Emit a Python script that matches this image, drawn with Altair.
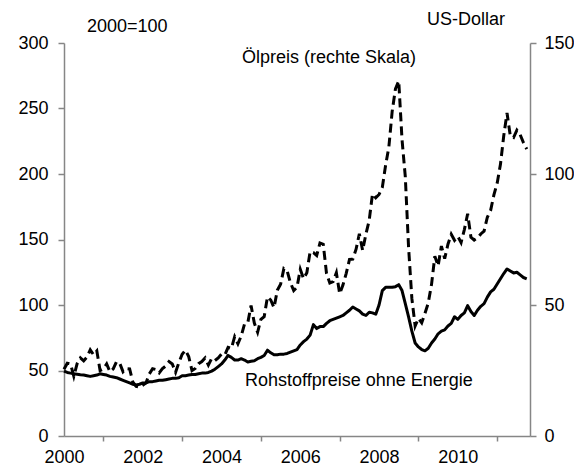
import altair as alt
import pandas as pd

# Monthly data, Jan 2000 - Oct 2011
oil_usd = [
    25.5, 27.8, 27.5, 22.8, 27.6, 29.8, 28.7, 30.1, 32.9, 31.0, 32.5, 25.0,
    25.6, 27.5, 24.5, 25.6, 28.4, 27.7, 24.5, 25.7, 25.6, 20.5, 18.9, 18.6,
    19.4, 20.3, 23.7, 25.7, 25.4, 24.1, 25.7, 26.7, 28.4, 27.5, 24.3, 28.0,
    31.2, 32.8, 30.3, 25.0, 25.8, 27.6, 28.4, 29.8, 27.1, 29.6, 28.8, 29.8,
    31.3, 30.9, 33.8, 33.4, 37.9, 35.2, 38.2, 42.7, 43.2, 49.8, 43.1, 39.6,
    44.5, 45.5, 53.1, 51.9, 49.0, 55.6, 57.9, 63.9, 63.0, 58.5, 55.5, 56.8,
    63.6, 60.0, 62.3, 70.4, 70.0, 68.9, 73.7, 73.2, 62.0, 58.4, 58.9, 62.3,
    54.3, 57.6, 62.1, 67.4, 67.5, 71.3, 77.2, 70.8, 77.1, 82.3, 92.4, 90.9,
    92.2, 94.9, 103.3, 110.4, 123.9, 132.5, 135.5, 113.2, 99.0, 72.0, 52.5, 42.0,
    44.9, 43.2, 46.8, 50.8, 57.9, 68.6, 64.9, 72.5, 67.7, 73.2, 77.0, 74.7,
    76.2, 73.8, 78.8, 84.8, 75.9, 74.8, 75.6, 77.1, 78.2, 83.5, 86.1, 92.0,
    96.5, 103.7, 114.6, 123.3, 114.5, 113.9, 116.7, 115.0, 112.0, 109.5,
]

commodity_index = [
    49.5, 48.5, 48.0, 47.5, 47.2, 46.8, 46.5, 46.0, 45.5, 46.0, 46.5, 47.5,
    47.0, 46.5, 45.5, 45.0, 44.5, 43.5, 42.5, 41.5, 40.5, 39.5, 39.0, 39.5,
    40.5, 40.5, 41.5, 41.5, 42.0, 42.5, 42.5, 43.0, 43.5, 44.0, 44.0, 44.5,
    46.0, 46.0, 46.5, 47.0, 47.0, 47.5, 48.0, 48.0, 48.5, 49.5, 51.0, 53.0,
    55.0, 58.0, 61.5, 60.0, 58.0, 58.0, 59.0, 58.0, 56.5, 57.0, 57.5, 59.0,
    60.0, 61.5, 65.5, 63.5, 62.0, 62.0, 62.5, 62.5, 63.0, 64.0, 65.0, 66.0,
    69.5, 72.0, 74.0, 77.0, 85.0, 82.0, 83.5, 83.5, 86.0, 88.0, 89.0, 90.0,
    91.0, 92.0, 94.0, 96.0, 98.5, 97.0, 95.5, 93.0, 92.0, 94.5, 94.0, 93.0,
    100.0, 111.0, 113.5, 113.5, 113.5, 114.0, 115.5, 111.0, 101.0, 91.0, 80.0, 71.0,
    68.0, 66.0, 65.0, 67.0, 71.0, 74.0, 78.0, 80.0, 81.0, 84.0, 86.0, 91.0,
    89.0, 92.0, 94.0, 99.5, 95.0, 92.0, 96.0, 99.0, 101.0, 106.0, 110.0, 112.0,
    116.0, 120.0, 124.0, 127.5, 126.0, 124.5, 125.0, 123.0, 121.0, 120.0,
]

x_tick_years = [2001, 2003, 2005, 2007, 2009, 2011]
left_ticks = [0, 50, 100, 150, 200, 250, 300]
right_ticks = [0, 50, 100, 150]

n = len(oil_usd)
df = pd.DataFrame({
    "t": [2000 + i / 12 for i in range(n)],
    "oil": oil_usd,
    "idx": commodity_index,
})

FONT = "Liberation Sans"
GRAY = "#868686"
W, H = 466, 393

xscale = alt.Scale(domain=[2000, 2000 + 142 / 12], nice=False, zero=False)
xaxis = alt.Axis(
    values=x_tick_years, labelExpr="'' + (datum.value - 1)",
    labelOffset=-39.4, labelFlush=False, labelOverlap=False,
    grid=False, tickSize=5, labelPadding=7, title=None,
)

base = alt.Chart(df)

solid = base.mark_line(color="black", strokeWidth=3, strokeJoin="round").encode(
    x=alt.X("t:Q", scale=xscale, axis=xaxis),
    y=alt.Y("idx:Q", scale=alt.Scale(domain=[0, 300], nice=False),
            axis=alt.Axis(values=left_ticks, orient="left", grid=False, tickSize=6,
                          labelPadding=10, title=None)),
)

dashed = base.mark_line(color="black", strokeWidth=3, strokeDash=[9, 5], strokeCap="butt").encode(
    x=alt.X("t:Q", scale=xscale, axis=xaxis),
    y=alt.Y("oil:Q", scale=alt.Scale(domain=[0, 150], nice=False),
            axis=alt.Axis(values=right_ticks, orient="right", grid=False, tickSize=6,
                          labelPadding=8, title=None)),
)

one = pd.DataFrame({"a": [0]})

def note(txt, px, py):
    return alt.Chart(one).mark_text(
        text=txt, align="left", baseline="alphabetic", font=FONT, fontSize=18, color="black"
    ).encode(x=alt.value(px), y=alt.value(py))

texts = (
    note("2000=100", 23, -11)
    + note("US-Dollar", 363, -18)
    + note("Ölpreis (rechte Skala)", 178, 20)
    + note("Rohstoffpreise ohne Energie", 181, 343)
)

chart = alt.layer(solid, dashed, texts).resolve_scale(y="independent").properties(
    width=W, height=H,
    autosize=alt.AutoSizeParams(type="none"),
    padding={"left": 56, "top": 35, "right": 44, "bottom": 33},
).configure_view(stroke=None).configure_axis(
    domainColor=GRAY, tickColor=GRAY, domainWidth=1.5, tickWidth=1.5,
    labelFont=FONT, labelFontSize=18, labelColor="black",
)

chart.save("out.html", embed_options={"renderer": "svg", "actions": False})
